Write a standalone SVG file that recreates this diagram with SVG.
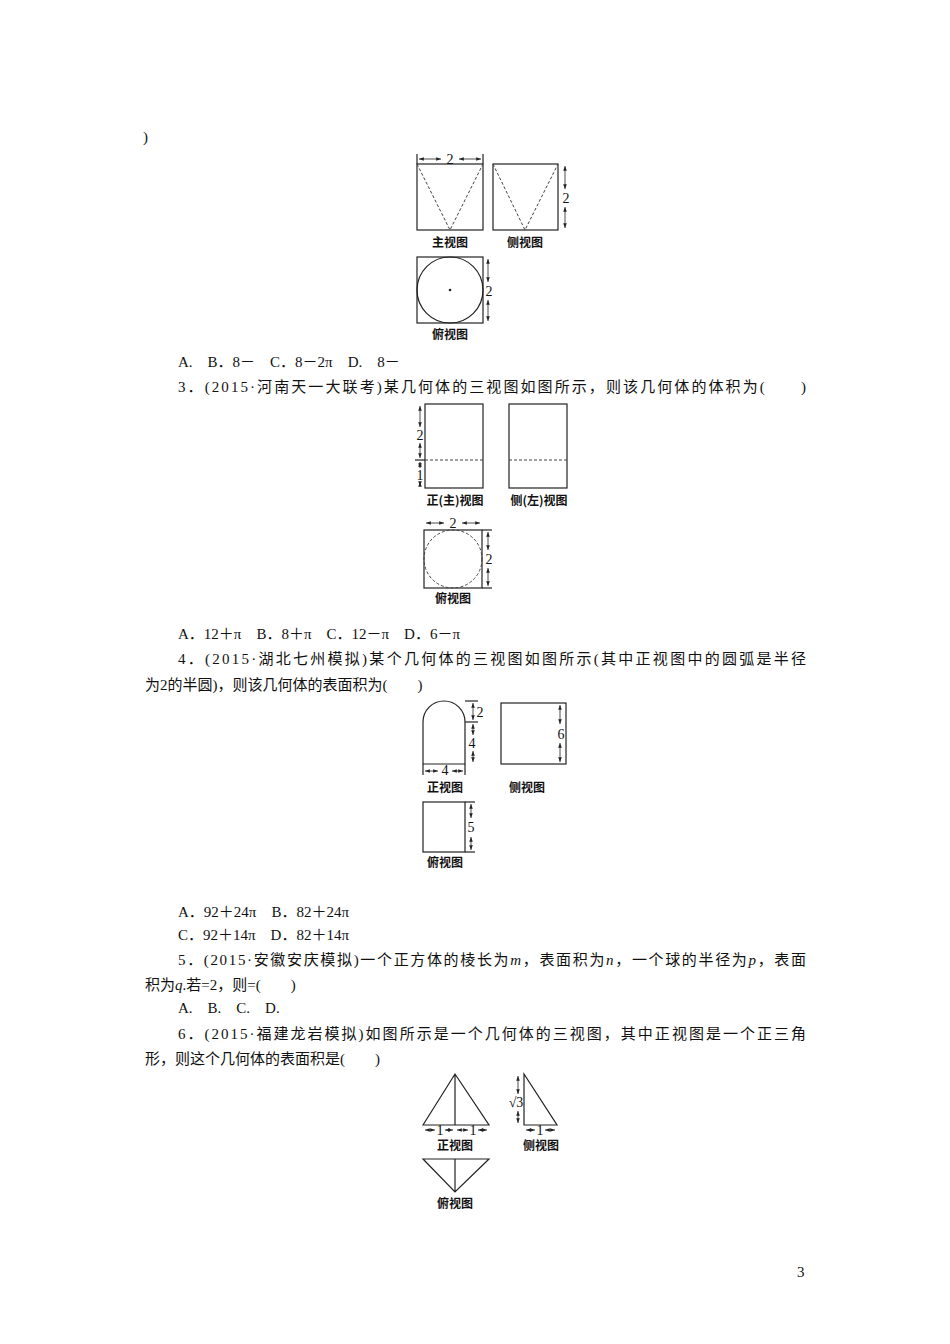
<svg xmlns="http://www.w3.org/2000/svg" width="950" height="1344" viewBox="0 0 950 1344">
<style>
.t{font-family:"Liberation Serif","Noto Sans CJK SC",serif;font-size:15px;fill:#111}
.c{font-family:"Noto Sans CJK SC",sans-serif;font-size:12px;font-weight:bold;fill:#111;text-anchor:middle}
.d{font-family:"Liberation Serif",serif;font-size:14px;fill:#111;text-anchor:middle}
.l{fill:none;stroke:#222;stroke-width:1.2}
.h{fill:none;stroke:#444;stroke-width:1;stroke-dasharray:3,2}
.a{fill:none;stroke:#222;stroke-width:0.8;marker-start:url(#m);marker-end:url(#m)}
</style>
<defs><marker id="m" viewBox="0 0 8 6" refX="8" refY="3" markerWidth="6" markerHeight="5" orient="auto-start-reverse"><path d="M0,0L8,3L0,6z" fill="#222"/></marker></defs>
<rect width="950" height="1344" fill="#fff"/>
<text class="t" x="143" y="142">)</text>
<text class="t" x="178" y="367">A.　B．8－　C．8－2π　D.　8－</text>
<text class="t" x="178" y="392" textLength="628">3．(2015·河南天一大联考)某几何体的三视图如图所示，则该几何体的体积为(　　)</text>
<text class="t" x="178" y="639">A．12＋π　B．8＋π　C．12－π　D．6－π</text>
<text class="t" x="178" y="664" textLength="628">4．(2015·湖北七州模拟)某个几何体的三视图如图所示(其中正视图中的圆弧是半径</text>
<text class="t" x="145" y="690">为2的半圆)，则该几何体的表面积为(　　)</text>
<text class="t" x="178" y="917">A．92＋24π　B．82＋24π</text>
<text class="t" x="178" y="940">C．92＋14π　D．82＋14π</text>
<text class="t" x="178" y="965" textLength="628">5．(2015·安徽安庆模拟)一个正方体的棱长为<tspan font-style="italic">m</tspan>，表面积为<tspan font-style="italic">n</tspan>，一个球的半径为<tspan font-style="italic">p</tspan>，表面</text>
<text class="t" x="145" y="990">积为<tspan font-style="italic">q</tspan>.若=2，则=(　　)</text>
<text class="t" x="178" y="1013">A.　B.　C.　D.</text>
<text class="t" x="178" y="1039" textLength="628">6．(2015·福建龙岩模拟)如图所示是一个几何体的三视图，其中正视图是一个正三角</text>
<text class="t" x="145" y="1064">形，则这个几何体的表面积是(　　)</text>
<text class="t" x="797" y="1277">3</text>

<g id="fig2">
<rect class="l" x="417" y="164" width="66" height="66"/>
<path class="h" d="M417,164L450,230L483,164"/>
<line class="l" x1="417" y1="154" x2="417" y2="164" stroke-width="0.8"/><line class="l" x1="483" y1="154" x2="483" y2="164" stroke-width="0.8"/>
<line class="a" x1="419" y1="159" x2="441" y2="159"/><line class="a" x1="481" y1="159" x2="459" y2="159"/>
<text class="d" x="450" y="164">2</text>
<text class="c" x="450" y="247">主视图</text>
<rect class="l" x="493" y="164" width="65" height="66"/>
<path class="h" d="M493,164L525,230L558,164"/>
<line class="a" x1="565" y1="166" x2="565" y2="189"/><line class="a" x1="565" y1="228" x2="565" y2="207"/>
<text class="d" x="566" y="203">2</text>
<text class="c" x="525" y="247">侧视图</text>
<rect class="l" x="417" y="257" width="66" height="66"/>
<circle class="l" cx="450" cy="290" r="33" stroke-width="1"/>
<circle cx="450" cy="290" r="1.3" fill="#222"/>
<line class="a" x1="488" y1="259" x2="488" y2="282"/><line class="a" x1="488" y1="321" x2="488" y2="300"/>
<text class="d" x="489" y="296">2</text>
<text class="c" x="450" y="339">俯视图</text>
</g>

<g id="fig3">
<rect class="l" x="425" y="404" width="58" height="84"/>
<line class="h" x1="425" y1="460" x2="483" y2="460"/>
<line class="a" x1="420" y1="406" x2="420" y2="427"/><line class="a" x1="420" y1="458" x2="420" y2="443"/>
<line class="a" x1="420" y1="462" x2="420" y2="468"/><line class="a" x1="420" y1="486" x2="420" y2="482"/>
<line class="l" x1="415" y1="460" x2="425" y2="460" stroke-width="0.8"/>
<text class="d" x="420" y="440">2</text><text class="d" x="420" y="480">1</text>
<text class="c" x="455" y="505">正(主)视图</text>
<rect class="l" x="509" y="404" width="58" height="84"/>
<line class="h" x1="509" y1="460" x2="567" y2="460"/>
<text class="c" x="539" y="505">侧(左)视图</text>
<rect class="l" x="424" y="530" width="58" height="58"/>
<circle class="h" cx="453" cy="559" r="29"/>
<line class="a" x1="426" y1="523" x2="444" y2="523"/><line class="a" x1="480" y1="523" x2="462" y2="523"/>
<text class="d" x="453" y="528">2</text>
<line class="a" x1="488" y1="532" x2="488" y2="550"/><line class="a" x1="488" y1="586" x2="488" y2="568"/>
<line class="l" x1="482" y1="530" x2="492" y2="530" stroke-width="0.8"/><line class="l" x1="482" y1="588" x2="492" y2="588" stroke-width="0.8"/>
<text class="d" x="489" y="564">2</text>
<text class="c" x="453" y="603">俯视图</text>
</g>

<g id="fig4">
<path class="l" d="M423,764V722A21,21 0 0 1 465,722V764Z"/>
<line class="l" x1="465" y1="701" x2="478" y2="701" stroke-width="0.8"/><line class="l" x1="465" y1="722" x2="478" y2="722" stroke-width="0.8"/>
<line class="a" x1="473" y1="703" x2="473" y2="720"/>
<text class="d" x="480" y="717">2</text>
<line class="a" x1="473" y1="724" x2="473" y2="735"/><line class="a" x1="473" y1="762" x2="473" y2="751"/>
<text class="d" x="472" y="748">4</text>
<line class="l" x1="423" y1="764" x2="423" y2="775" stroke-width="0.8"/><line class="l" x1="465" y1="764" x2="465" y2="775" stroke-width="0.8"/>
<line class="a" x1="425" y1="771" x2="438" y2="771"/><line class="a" x1="463" y1="771" x2="452" y2="771"/>
<text class="d" x="445" y="775" font-size="13">4</text>
<text class="c" x="445" y="792">正视图</text>
<rect class="l" x="501" y="703" width="65" height="61"/>
<line class="a" x1="560" y1="705" x2="560" y2="724"/><line class="a" x1="560" y1="762" x2="560" y2="743"/>
<text class="d" x="561" y="739">6</text>
<text class="c" x="527" y="792">侧视图</text>
<rect class="l" x="423" y="802" width="42" height="50"/>
<line class="l" x1="465" y1="802" x2="475" y2="802" stroke-width="0.8"/><line class="l" x1="465" y1="852" x2="475" y2="852" stroke-width="0.8"/>
<line class="a" x1="471" y1="804" x2="471" y2="818"/><line class="a" x1="471" y1="850" x2="471" y2="837"/>
<text class="d" x="471" y="832">5</text>
<text class="c" x="445" y="867">俯视图</text>
</g>

<g id="fig6">
<path class="l" d="M423,1125L455,1074L489,1125Z M455,1074V1125"/>
<line class="a" x1="425" y1="1130" x2="435" y2="1130"/><line class="a" x1="453" y1="1130" x2="445" y2="1130"/>
<line class="a" x1="457" y1="1130" x2="468" y2="1130"/><line class="a" x1="487" y1="1130" x2="478" y2="1130"/>
<text class="d" x="440" y="1135">1</text><text class="d" x="473" y="1135">1</text>
<text class="c" x="455" y="1150">正视图</text>
<path class="l" d="M524,1074V1125H557Z"/>
<line class="a" x1="518" y1="1076" x2="518" y2="1094"/><line class="a" x1="518" y1="1123" x2="518" y2="1111"/>
<text class="d" x="516" y="1107" font-size="12">√3</text>
<line class="a" x1="526" y1="1130" x2="535" y2="1130"/><line class="a" x1="555" y1="1130" x2="545" y2="1130"/>
<text class="d" x="540" y="1135">1</text>
<text class="c" x="541" y="1150">侧视图</text>
<path class="l" d="M423,1159H489L455,1192Z M455,1159V1192"/>
<text class="c" x="455" y="1208">俯视图</text>
</g>
</svg>
